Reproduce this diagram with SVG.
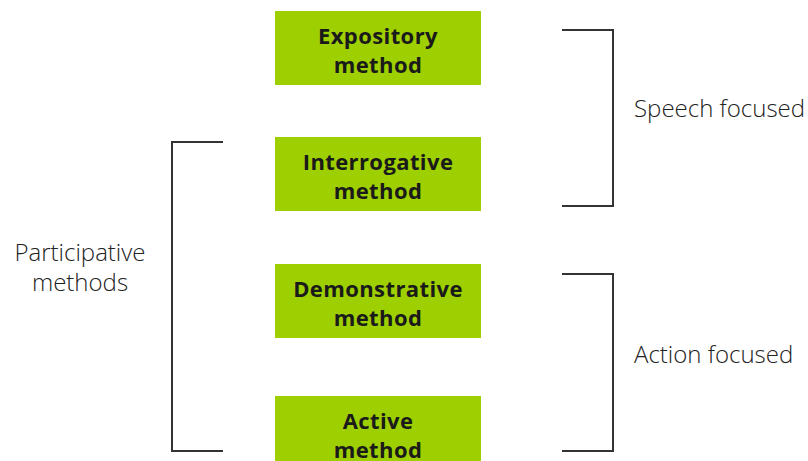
<svg xmlns="http://www.w3.org/2000/svg" width="808" height="461" viewBox="0 0 808 461">
<style>
.box{fill:#9ecf00}
.bt{font-family:"Open Sans","Noto Sans",sans-serif;font-weight:700;font-size:22px;letter-spacing:0.4px;fill:#1a1a1a;text-anchor:middle}
.lt{font-family:"Open Sans","Noto Sans",sans-serif;font-weight:300;font-size:24px;fill:#222}
.br{fill:none;stroke:#333;stroke-width:2}
</style>
<rect width="808" height="461" fill="#fff"/>
<g id="expository"><rect class="box" x="275" y="11" width="206" height="74"/><text class="bt" x="378" y="44">Expository</text><text class="bt" x="378" y="73">method</text></g>
<g id="interrogative"><rect class="box" x="275" y="137" width="206" height="74"/><text class="bt" x="378" y="170">Interrogative</text><text class="bt" x="378" y="199">method</text></g>
<g id="demonstrative"><rect class="box" x="275" y="264" width="206" height="74"/><text class="bt" x="378" y="297">Demonstrative</text><text class="bt" x="378" y="326">method</text></g>
<g id="active"><rect class="box" x="275" y="396" width="206" height="74"/><text class="bt" x="378" y="429">Active</text><text class="bt" x="378" y="458">method</text></g>
<g id="connectors">
<path class="br" d="M223 142H172V451H223"/>
<path class="br" d="M562 30H613V206H562"/>
<path class="br" d="M562 274H613V451H562"/>
</g>
<g id="labels">
<text class="lt" x="634" y="117">Speech focused</text>
<text class="lt" x="634" y="363">Action focused</text>
<text class="lt" x="80" y="261" text-anchor="middle">Participative</text>
<text class="lt" x="80" y="291" text-anchor="middle">methods</text>
</g>
</svg>
